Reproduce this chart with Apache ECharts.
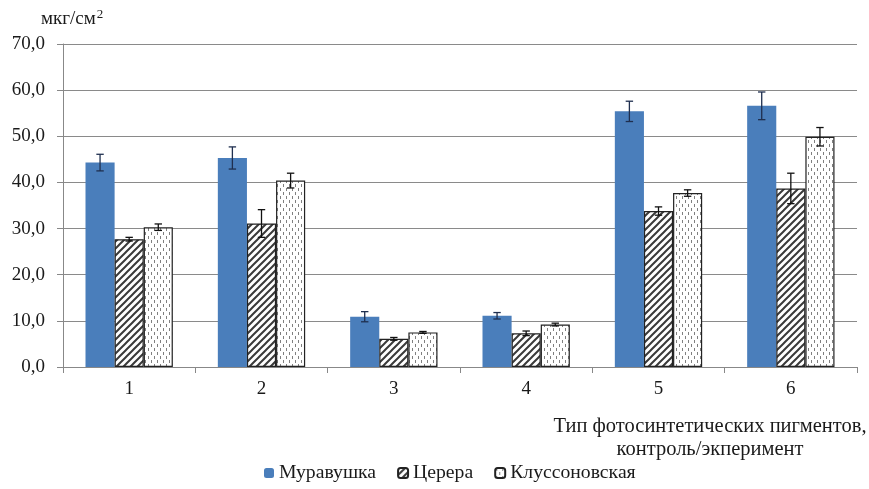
<!DOCTYPE html>
<html><head><meta charset="utf-8">
<script src="https://cdn.jsdelivr.net/npm/echarts@6/dist/echarts.min.js"></script>
<style>html,body{margin:0;padding:0;background:#fff}#c{width:869px;height:489px}</style>
</head><body><div id="c"></div>
<script>
const categories = ['1','2','3','4','5','6'];
const seriesNames = ['Муравушка','Церера','Клуссоновская'];
const muravushka = [44.3, 45.3, 10.9, 11.1, 55.4, 56.6];
const muravushkaErr = [1.8, 2.4, 1.1, 0.7, 2.2, 3.0];
const cerera = [27.7, 31.1, 6.1, 7.3, 33.8, 38.7];
const cereraErr = [0.4, 3.0, 0.3, 0.5, 0.9, 3.3];
const klussonovskaya = [30.3, 40.4, 7.5, 9.2, 37.7, 49.9];
const klussonovskayaErr = [0.7, 1.6, 0.2, 0.3, 0.7, 2.0];
const yTicks = [0,10,20,30,40,50,60,70];

function hatch(){
  const c=document.createElement('canvas');c.width=7;c.height=7;
  const g=c.getContext('2d');g.fillStyle='#fff';g.fillRect(0,0,7,7);
  g.strokeStyle='#3a3a3a';g.lineWidth=2;
  g.beginPath();
  g.moveTo(-1,8);g.lineTo(8,-1);
  g.moveTo(-4.5,4.5);g.lineTo(4.5,-4.5);
  g.moveTo(2.5,11.5);g.lineTo(11.5,2.5);
  g.stroke();return c;
}
function dots(){
  const c=document.createElement('canvas');c.width=6;c.height=8;
  const g=c.getContext('2d');g.fillStyle='#fff';g.fillRect(0,0,6,8);
  g.fillStyle='#808080';
  g.fillRect(1,0,1,3);
  g.fillRect(4,4,1,3);
  return c;
}
const fills=['#4a7ebb',{image:hatch(),repeat:'repeat'},{image:dots(),repeat:'repeat'}];
const values=[muravushka,cerera,klussonovskaya];
const errs=[muravushkaErr,cereraErr,klussonovskayaErr];
const errColors=['#1f2f4f','#111','#111'];
const GAP=0.34;
const FONT='Liberation Serif';

const series=[];
for(let i=0;i<3;i++){
  series.push({
    name:seriesNames[i],type:'bar',data:values[i],
    barGap:'0%',barCategoryGap:(GAP*100)+'%',
    itemStyle:{color:fills[i],borderColor:i===0?'#4a7ebb':'#222',borderWidth:i===0?0:1.2},
    emphasis:{disabled:true}
  });
}
for(let i=0;i<3;i++){
  series.push({
    type:'custom',name:'err'+i,
    data:values[i].map((v,k)=>[k,v,errs[i][k]]),
    renderItem:function(params,api){
      const k=api.value(0),v=api.value(1),e=api.value(2);
      const band=api.size([1,0])[0];
      const bw=band*(1-GAP)/3;
      const x=api.coord([k,v])[0]+(i-1)*bw;
      const yt=api.coord([k,v+e])[1], yb=api.coord([k,v-e])[1];
      const cw=3.7;
      const st={stroke:errColors[i],lineWidth:1.3};
      return {type:'group',children:[
        {type:'line',shape:{x1:x,y1:yt,x2:x,y2:yb},style:st},
        {type:'line',shape:{x1:x-cw,y1:yt,x2:x+cw,y2:yt},style:st},
        {type:'line',shape:{x1:x-cw,y1:yb,x2:x+cw,y2:yb},style:st}
      ]};
    },
    z:10,silent:true
  });
}

const chart=echarts.init(document.getElementById('c'),null,{renderer:'canvas'});
chart.setOption({
  animation:false,
  textStyle:{fontFamily:FONT},
  grid:{left:63,right:12,top:44,bottom:122},
  legend:{data:seriesNames,bottom:1,left:259,itemWidth:10,itemHeight:10,itemGap:21,
    textStyle:{fontFamily:FONT,fontSize:19.7,color:'#1a1a1a'}},
  xAxis:{type:'category',data:categories,
    axisLine:{lineStyle:{color:'#888'}},
    axisTick:{show:true,length:6,lineStyle:{color:'#888'}},
    axisLabel:{fontFamily:FONT,fontSize:19,color:'#1a1a1a',margin:13}},
  yAxis:{type:'value',min:0,max:70,interval:10,
    axisLine:{show:true,lineStyle:{color:'#888'}},
    axisTick:{show:true,length:6,lineStyle:{color:'#888'}},
    splitLine:{lineStyle:{color:'#8a8a8a'}},
    axisLabel:{fontFamily:FONT,fontSize:19,color:'#1a1a1a',margin:18,
      formatter:v=>yTicks.includes(v)?v.toFixed(1).replace('.',','):''}},
  graphic:[
    {type:'text',left:41,top:8,style:{text:'мкг/см{s|2}',
      font:'19px "Liberation Serif"',fill:'#1a1a1a',
      rich:{s:{fontSize:13,fontFamily:FONT,verticalAlign:'top',padding:[0,0,9,1],fill:'#1a1a1a'}}}},
    {type:'text',x:710,y:416,style:{text:'Тип фотосинтетических пигментов,',
      font:'20.5px "Liberation Serif"',fill:'#1a1a1a',align:'center',verticalAlign:'top'}},
    {type:'text',x:710,y:439,style:{text:'контроль/экперимент',
      font:'20.5px "Liberation Serif"',fill:'#1a1a1a',align:'center',verticalAlign:'top'}}],
  series:series
});
</script></body></html>
